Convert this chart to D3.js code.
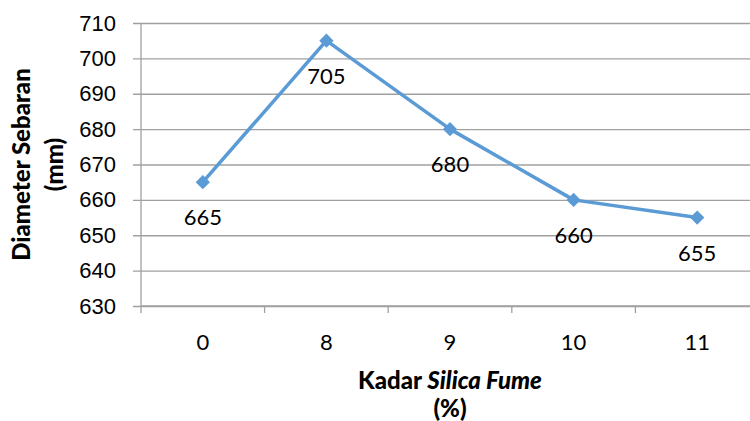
<!DOCTYPE html>
<html>
<head>
<meta charset="utf-8">
<script src="https://cdn.jsdelivr.net/npm/d3@7"></script>
<style>
  html, body { margin: 0; padding: 0; background: #fff; }
  svg { display: block; font-family: Lato, "Open Sans", sans-serif; }
</style>
</head>
<body>
<svg id="chart" width="750" height="421"></svg>
<script>
// Silica fume content (%) and measured spread diameter (mm)
const categories = ["0", "8", "9", "10", "11"];
const diameters = [665, 705, 680, 660, 655];
const yTicks = [630, 640, 650, 660, 670, 680, 690, 700, 710];

const svg = d3.select("#chart");
const plot = { left: 141, right: 759, top: 23, bottom: 306 };

const x = d3.scaleBand().domain(categories).range([plot.left, plot.right]);
const y = d3.scaleLinear().domain([630, 710]).range([plot.bottom, plot.top]);

const gridColor = "#a0a0a0";
const textColor = "#000";

// horizontal gridlines with short outer ticks
const yAxis = d3.axisLeft(y).tickValues(yTicks).tickSize(plot.right - plot.left + 8).tickPadding(17).tickFormat(d3.format("d"));
const gy = svg.append("g").attr("transform", `translate(${plot.right},0)`).call(yAxis);
gy.select(".domain").remove();
gy.selectAll(".tick line").attr("stroke", gridColor).attr("stroke-width", 1.3);
gy.selectAll(".tick text").attr("font-size", 22).attr("fill", textColor);

// vertical axis line
svg.append("line")
  .attr("x1", plot.left).attr("x2", plot.left)
  .attr("y1", plot.top).attr("y2", plot.bottom)
  .attr("stroke", gridColor).attr("stroke-width", 1.3);

// category axis: ticks at band boundaries, labels centred in bands
svg.append("line")
  .attr("x1", plot.left).attr("x2", plot.right)
  .attr("y1", plot.bottom).attr("y2", plot.bottom)
  .attr("stroke", gridColor).attr("stroke-width", 1.3);
const bounds = categories.map(c => x(c)).concat([x(categories[categories.length - 1]) + x.bandwidth()]);
svg.append("g").selectAll("line").data(bounds).join("line")
  .attr("x1", d => d).attr("x2", d => d)
  .attr("y1", plot.bottom).attr("y2", plot.bottom + 7)
  .attr("stroke", gridColor).attr("stroke-width", 1.3);
svg.append("g").selectAll("text").data(categories).join("text")
  .attr("x", d => x(d) + x.bandwidth() / 2)
  .attr("y", 350)
  .attr("text-anchor", "middle")
  .attr("font-size", 22)
  .attr("fill", textColor)
  .text(d => d);

// series line
const pts = categories.map((c, i) => ({ c, v: diameters[i] }));
const cx = d => x(d.c) + x.bandwidth() / 2;
svg.append("path")
  .datum(pts)
  .attr("fill", "none")
  .attr("stroke", "#5b9bd5")
  .attr("stroke-width", 3.5)
  .attr("stroke-linejoin", "round")
  .attr("d", d3.line().x(cx).y(d => y(d.v)));

// diamond markers
svg.append("g").selectAll("path").data(pts).join("path")
  .attr("transform", d => `translate(${cx(d)},${y(d.v)})`)
  .attr("d", d3.symbol(d3.symbolDiamond2, 130))
  .attr("fill", "#5b9bd5");

// value labels below each point
svg.append("g").selectAll("text").data(pts).join("text")
  .attr("x", cx)
  .attr("y", d => y(d.v) + 43)
  .attr("text-anchor", "middle")
  .attr("font-size", 22)
  .attr("fill", textColor)
  .text(d => d.v);

// axis titles
const yt = svg.append("text")
  .attr("transform", `translate(0,${(plot.top + plot.bottom) / 2}) rotate(-90)`)
  .attr("text-anchor", "middle")
  .attr("font-size", 24)
  .attr("font-weight", "900")
  .attr("fill", textColor);
yt.append("tspan").attr("x", 0).attr("y", 30).text("Diameter Sebaran");
yt.append("tspan").attr("x", 0).attr("y", 63).text("(mm)");

const xt = svg.append("text")
  .attr("text-anchor", "middle")
  .attr("font-size", 24)
  .attr("font-weight", "900")
  .attr("fill", textColor);
const l1 = xt.append("tspan").attr("x", (plot.left + plot.right) / 2).attr("y", 389);
l1.append("tspan").text("Kadar ");
l1.append("tspan").attr("font-style", "italic").text("Silica Fume");
xt.append("tspan").attr("x", (plot.left + plot.right) / 2).attr("y", 417).text("(%)");
</script>
</body>
</html>
